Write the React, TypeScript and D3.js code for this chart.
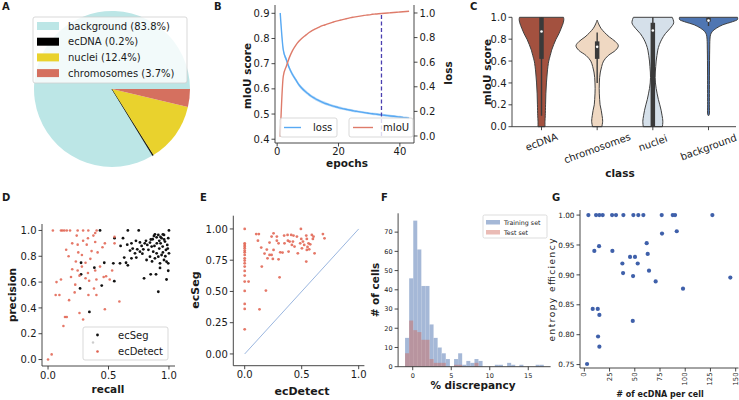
import React from 'react';
import * as d3 from 'd3';

const FONT = "'DejaVu Sans', sans-serif";
const AX = '#333';
const TXT = '#1a1a1a';

// ---------- A: pie
const pieLabels = ['background', 'ecDNA', 'nuclei', 'chromosomes'];
const piePercents = [83.8, 0.2, 12.4, 3.7];
const pieColors = ['#bce6e6', '#000000', '#e9d22d', '#d5705f'];

// ---------- B: training curves
const epochs = [1,2,3,4,5,6,7,8,9,10,11,12,13,14,15,16,17,18,19,20,21,22,23,24,25,26,27,28,29,30,31,32,33,34,35,36,37,38,39,40,41,42,43];
const miou = [0.41,0.65,0.69,0.725,0.752,0.772,0.788,0.8,0.81,0.82,0.828,0.835,0.841,0.847,0.852,0.856,0.86,0.864,0.868,0.871,0.874,0.877,0.88,0.883,0.885,0.887,0.889,0.891,0.893,0.894,0.896,0.897,0.898,0.899,0.9,0.901,0.902,0.903,0.904,0.905,0.906,0.907,0.908];
const loss = [1.0,0.7,0.62,0.55,0.5,0.46,0.42,0.39,0.365,0.345,0.325,0.31,0.295,0.283,0.272,0.262,0.253,0.245,0.238,0.231,0.225,0.219,0.214,0.209,0.204,0.2,0.196,0.192,0.188,0.184,0.181,0.178,0.175,0.172,0.169,0.166,0.163,0.16,0.157,0.154,0.151,0.148,0.145];
const lossSpread = [0.02,0.02,0.018,0.017,0.016,0.015,0.015,0.014,0.014,0.013,0.013,0.013,0.012,0.012,0.012,0.012,0.011,0.011,0.011,0.011,0.011,0.01,0.01,0.01,0.01,0.01,0.01,0.01,0.01,0.01,0.01,0.01,0.01,0.01,0.01,0.01,0.01,0.01,0.01,0.01,0.01,0.01,0.01];
const bestEpoch = 34;

// ---------- C: violins
const violinClasses = ['ecDNA', 'chromosomes', 'nuclei', 'background'];
const violinColors = ['#a3513f', '#efd8c2', '#d5e0ea', '#4f76b2'];
const violinEcDNA = [[0,0.12],[0.05,0.12],[0.1,0.13],[0.2,0.14],[0.3,0.15],[0.4,0.17],[0.5,0.2],[0.6,0.25],[0.65,0.3],[0.7,0.35],[0.75,0.42],[0.8,0.5],[0.85,0.6],[0.9,0.68],[0.95,0.75],[0.98,0.77],[1.0,0.76]];
const violinChrom = [[0,0.16],[0.05,0.19],[0.1,0.17],[0.15,0.14],[0.2,0.1],[0.25,0.085],[0.3,0.075],[0.35,0.07],[0.4,0.075],[0.45,0.085],[0.5,0.11],[0.55,0.155],[0.6,0.22],[0.65,0.38],[0.7,0.64],[0.74,0.73],[0.78,0.62],[0.82,0.42],[0.86,0.26],[0.9,0.13],[0.94,0.05],[0.975,0]];
const violinNuclei = [[0,0.33],[0.05,0.345],[0.1,0.32],[0.15,0.286],[0.2,0.24],[0.25,0.19],[0.3,0.15],[0.35,0.115],[0.4,0.09],[0.45,0.08],[0.5,0.085],[0.55,0.1],[0.6,0.115],[0.65,0.14],[0.7,0.17],[0.75,0.225],[0.8,0.31],[0.85,0.43],[0.9,0.6],[0.95,0.72],[1.0,0.67]];
const violinBackground = [[0.1,0],[0.11,0.025],[0.2,0.03],[0.5,0.033],[0.7,0.04],[0.8,0.05],[0.84,0.07],[0.87,0.13],[0.9,0.27],[0.93,0.48],[0.96,0.83],[0.98,1.0],[1.0,1.0]];
const violinShapes = [violinEcDNA, violinChrom, violinNuclei, violinBackground];
// [whiskerLow, q1, median, q3, whiskerHigh]
const violinStats = [[0.1,0.62,0.87,1.0,1.0],[0.4,0.62,0.73,0.78,0.86],[0,0,0.88,0.95,1.0],[0.92,0.96,0.97,0.995,1.0]];

// ---------- D: precision / recall
const ecSegPR = [[0.43,1.0],[0.66,1.0],[0.75,1.0],[1.0,1.0],[0.55,0.94],[0.62,0.94],[0.655,0.89],[0.69,0.9],[0.727,0.92],[0.76,0.907],[0.774,0.88],[0.788,0.854],[0.81,0.92],[0.821,0.888],[0.843,0.906],[0.857,0.875],[0.865,0.932],[0.876,0.957],[0.884,0.97],[0.898,0.947],[0.912,0.965],[0.92,0.92],[0.931,0.9],[0.939,0.94],[0.948,0.875],[0.959,0.965],[0.967,0.914],[0.975,0.849],[0.986,0.888],[0.994,0.94],[1.0,0.823],[0.87,0.836],[0.898,0.823],[0.912,0.797],[0.939,0.81],[0.959,0.771],[0.98,0.758],[0.994,0.745],[0.926,0.745],[0.884,0.784],[0.843,0.797],[0.815,0.771],[0.76,0.836],[0.738,0.854],[0.719,0.823],[0.678,0.844],[0.69,0.784],[0.645,0.75],[0.273,0.75],[0.273,0.66],[0.265,0.551],[0.342,0.369],[0.383,0.712],[0.444,0.573],[0.465,0.75],[0.54,0.745],[0.548,0.607],[0.595,0.745],[0.63,0.79],[0.66,0.73],[0.6,0.88],[0.7,0.86],[0.794,0.629],[0.849,0.66],[0.893,0.66],[0.98,0.62],[0.912,0.525],[0.994,0.688],[0.926,0.71],[0.95,0.83],[0.97,0.8],[0.9,0.9],[0.92,0.86],[0.85,0.93],[0.96,0.93],[0.88,0.88],[0.8,0.9],[0.78,0.82],[0.83,0.85],[0.95,0.97],[0.99,0.86],[0.73,0.79],[0.86,0.76],[0.93,0.95]];
const ecDetectPR = [[0.04,1.0],[0.107,1.0],[0.12,1.0],[0.135,1.0],[0.155,1.0],[0.182,1.0],[0.245,1.0],[0.29,1.0],[0.333,1.0],[0.402,1.0],[0.237,0.96],[0.375,0.96],[0.39,0.98],[0.33,0.94],[0.55,0.95],[0.55,0.9],[0.47,0.9],[0.245,0.89],[0.32,0.89],[0.39,0.91],[0.29,0.92],[0.41,0.83],[0.36,0.84],[0.28,0.81],[0.17,0.8],[0.23,0.76],[0.31,0.75],[0.245,0.69],[0.26,0.65],[0.33,0.67],[0.39,0.69],[0.46,0.64],[0.48,0.645],[0.53,0.69],[0.51,0.62],[0.31,0.63],[0.19,0.64],[0.107,0.62],[0.07,0.6],[0.225,0.58],[0.34,0.61],[0.4,0.62],[0.063,0.5],[0.094,0.5],[0.174,0.46],[0.334,0.5],[0.4,0.5],[0.59,0.45],[0.47,0.39],[0.14,0.33],[0.155,0.33],[0.26,0.36],[0.29,0.31],[0.127,0.26],[0.03,0.04],[0.0,0.0],[0.2,0.9],[0.15,0.85],[0.25,0.83],[0.28,0.72],[0.35,0.78],[0.43,0.72],[0.45,0.87],[0.2,0.7],[0.38,0.55],[0.22,0.52]];

// ---------- E: ecSeg vs ecDetect
const segVsDetect = [[0,1.0],[0,0.885],[0,0.872],[0,0.859],[0,0.845],[0,0.827],[0,0.813],[0,0.792],[0,0.765],[0,0.747],[0,0.725],[0,0.699],[0,0.664],[0,0.627],[0,0.579],[0,0.504],[0,0.4],[0,0.36],[0,0.197],[0.034,0.579],[0.101,0.959],[0.124,0.959],[0.116,0.906],[0.145,0.851],[0.15,0.699],[0.13,0.357],[0.186,0.507],[0.174,0.803],[0.194,0.835],[0.2,0.765],[0.218,0.792],[0.218,0.891],[0.236,0.792],[0.236,0.939],[0.253,0.965],[0.247,0.76],[0.253,0.832],[0.282,0.939],[0.282,0.906],[0.297,0.885],[0.297,0.757],[0.306,0.613],[0.312,0.813],[0.332,0.811],[0.346,0.947],[0.349,0.885],[0.376,0.952],[0.379,0.906],[0.394,0.899],[0.408,0.952],[0.414,0.872],[0.423,0.899],[0.428,0.947],[0.437,0.859],[0.458,0.939],[0.466,0.805],[0.487,0.885],[0.493,1.0],[0.496,0.92],[0.502,0.845],[0.511,0.899],[0.522,0.872],[0.54,0.947],[0.54,0.739],[0.545,0.92],[0.545,0.832],[0.551,0.856],[0.56,0.885],[0.566,0.837],[0.575,0.877],[0.589,0.952],[0.598,0.92],[0.604,0.939],[0.613,0.805],[0.686,0.959],[0.7,0.925],[0.385,0.819]];

// ---------- F: histogram
const histStart = -1.0;
const histBinWidth = 0.53;
const trainCounts = [15,46,76,61,42,42,22,15,10,7,4,0,4,7,1,3,2,4,3,0,0,0,1,1,0,2,1,0,1,0,0,0,1,1];
const testCounts = [7,24,19,18,14,14,4,2,2,2,0,0,1,1,0,0,0,2,0,0,0,0,0,0,0,0,0,0,0,0,0,0,0,0];

// ---------- G: entropy efficiency
const ecdnaCount = [4,11.6,14.9,18.2,27.5,31.4,38.7,48.6,53.5,58.5,76.7,87.6,89.9,126.9,9.9,14.6,27.8,77,91.6,61.8,62.8,45.3,50.2,37.7,52.9,64.1,38.4,48.3,70.7,144.7,97.8,8.3,13.3,14.9,48,13.6,14.9,2.7];
const entropyEff = [1,1,1,1,1,1,1,1,1,1,1,1,1,1,0.94,0.948,0.94,0.969,0.973,0.953,0.935,0.93,0.93,0.919,0.919,0.907,0.903,0.898,0.889,0.8955,0.877,0.843,0.843,0.833,0.823,0.797,0.78,0.751];

// ---------- helpers
type Sc = (v: number) => number;

function LeftAxis({ scale, x, y0, y1, ticks, fmt, fs = 10 }: { scale: Sc; x: number; y0: number; y1: number; ticks: number[]; fmt: (v: number) => string; fs?: number }) {
  return (
    <g>
      <line x1={x} x2={x} y1={y0} y2={y1} stroke={AX} strokeWidth={0.9} />
      {ticks.map((t) => (
        <g key={t}>
          <line x1={x - 3.5} x2={x} y1={scale(t)} y2={scale(t)} stroke={AX} strokeWidth={0.9} />
          <text x={x - 5.5} y={scale(t)} dy="0.36em" textAnchor="end" fontSize={fs} fill={TXT}>{fmt(t)}</text>
        </g>
      ))}
    </g>
  );
}

function RightAxis({ scale, x, y0, y1, ticks, fmt, fs = 10 }: { scale: Sc; x: number; y0: number; y1: number; ticks: number[]; fmt: (v: number) => string; fs?: number }) {
  return (
    <g>
      <line x1={x} x2={x} y1={y0} y2={y1} stroke={AX} strokeWidth={0.9} />
      {ticks.map((t) => (
        <g key={t}>
          <line x1={x} x2={x + 3.5} y1={scale(t)} y2={scale(t)} stroke={AX} strokeWidth={0.9} />
          <text x={x + 5.5} y={scale(t)} dy="0.36em" textAnchor="start" fontSize={fs} fill={TXT}>{fmt(t)}</text>
        </g>
      ))}
    </g>
  );
}

function BottomAxis({ scale, y, x0, x1, ticks, fmt, fs = 10, off = 12 }: { scale: Sc; y: number; x0: number; x1: number; ticks: number[]; fmt: (v: number) => string; fs?: number; off?: number }) {
  return (
    <g>
      <line x1={x0} x2={x1} y1={y} y2={y} stroke={AX} strokeWidth={0.9} />
      {ticks.map((t) => (
        <g key={t}>
          <line x1={scale(t)} x2={scale(t)} y1={y} y2={y + 3.5} stroke={AX} strokeWidth={0.9} />
          <text x={scale(t)} y={y + off} textAnchor="middle" fontSize={fs} fill={TXT}>{fmt(t)}</text>
        </g>
      ))}
    </g>
  );
}

function VLabel({ x, y, text, fs = 10.5, bold = true, len }: { x: number; y: number; text: string; fs?: number; bold?: boolean; len?: number }) {
  return (
    <text transform={`translate(${x},${y}) rotate(-90)`} textAnchor="middle" dominantBaseline="central" fontSize={fs} fontWeight={bold ? 'bold' : 'normal'} fill={TXT} textLength={len} lengthAdjust={len ? 'spacing' : undefined}>{text}</text>
  );
}

function HLabel({ x, y, text, fs = 10.5 }: { x: number; y: number; text: string; fs?: number }) {
  return <text x={x} y={y} textAnchor="middle" dominantBaseline="central" fontSize={fs} fontWeight="bold" fill={TXT}>{text}</text>;
}

function Letter({ x, y, t }: { x: number; y: number; t: string }) {
  return <text x={x} y={y} fontSize={10} fontWeight="bold" fill={TXT}>{t}</text>;
}

const f1 = (v: number) => v.toFixed(1);
const f2 = (v: number) => v.toFixed(2);
const f0 = (v: number) => String(v);

// ---------- panels
function PanelA() {
  const cx = 112, cy = 89, r = 78;
  const pie = d3.pie<number>().sort(null).startAngle(Math.PI / 2).endAngle(Math.PI / 2 - 2 * Math.PI);
  const arcs = pie(piePercents);
  const arc = d3.arc<d3.PieArcDatum<number>>().innerRadius(0).outerRadius(r);
  return (
    <g>
      <Letter x={2} y={10} t="A" />
      <g transform={`translate(${cx},${cy})`}>
        {arcs.map((a, i) => (
          <path key={i} d={arc(a) || ''} fill={pieColors[i]} stroke={i === 1 ? '#000' : 'none'} strokeWidth={0.6} />
        ))}
      </g>
      <rect x={33} y={17} width={154} height={66} rx={2} fill="#fff" fillOpacity={0.8} stroke="#cfcfcf" strokeWidth={0.8} />
      {pieLabels.map((l, i) => (
        <g key={l}>
          <rect x={37} y={22 + i * 15.7} width={22} height={8} fill={pieColors[i]} />
          <text x={68} y={26 + i * 15.7} dy="0.36em" fontSize={10} fill={TXT}>{`${l} (${piePercents[i]}%)`}</text>
        </g>
      ))}
    </g>
  );
}

function PanelB() {
  const x = d3.scaleLinear().domain([-0.7, 44.6]).range([275, 414]);
  const yL = d3.scaleLinear().domain([0.385, 0.933]).range([143, 5]);
  const yR = d3.scaleLinear().domain([-0.057, 1.065]).range([143, 5]);
  const band = d3.area<number>().x((_, i) => x(epochs[i])).y0((d, i) => yR(d - lossSpread[i])).y1((d, i) => yR(d + lossSpread[i])).curve(d3.curveMonotoneX);
  const lossLine = d3.line<number>().x((_, i) => x(epochs[i])).y((d) => yR(d)).curve(d3.curveMonotoneX);
  const miouLine = d3.line<number>().x((_, i) => x(epochs[i])).y((d) => yL(d)).curve(d3.curveMonotoneX);
  return (
    <g>
      <Letter x={214} y={10} t="B" />
      <path d={band(loss) || ''} fill="#9fcdf5" fillOpacity={0.7} />
      <path d={lossLine(loss) || ''} fill="none" stroke="#58a9f3" strokeWidth={1.4} />
      <path d={miouLine(miou) || ''} fill="none" stroke="#de7b6a" strokeWidth={1.4} />
      <line x1={x(bestEpoch)} x2={x(bestEpoch)} y1={yR(0)} y2={yR(1)} stroke="#4a3fb0" strokeWidth={1.3} strokeDasharray="4 2.5" />
      <LeftAxis scale={yL} x={275} y0={143} y1={5} ticks={[0.4, 0.5, 0.6, 0.7, 0.8, 0.9]} fmt={f1} />
      <RightAxis scale={yR} x={414} y0={143} y1={5} ticks={[0, 0.2, 0.4, 0.6, 0.8, 1.0]} fmt={f1} />
      <BottomAxis scale={x} y={143} x0={275} x1={414} ticks={[0, 20, 40]} fmt={f0} off={12} />
      <VLabel x={247} y={76} text="mIoU score" />
      <VLabel x={448} y={73} text="loss" />
      <HLabel x={347} y={163} text="epochs" />
      <rect x={280} y={118} width={57} height={19} rx={2} fill="#fff" fillOpacity={0.8} stroke="#cfcfcf" strokeWidth={0.8} />
      <line x1={284} x2={301} y1={127.5} y2={127.5} stroke="#58a9f3" strokeWidth={1.4} />
      <text x={313} y={127.5} dy="0.36em" fontSize={10} fill={TXT}>loss</text>
      <rect x={349} y={118} width={64} height={19} rx={2} fill="#fff" fillOpacity={0.8} stroke="#cfcfcf" strokeWidth={0.8} />
      <line x1={353} x2={373} y1={127.5} y2={127.5} stroke="#de7b6a" strokeWidth={1.4} />
      <text x={383} y={127.5} dy="0.36em" fontSize={10} fill={TXT}>mIoU</text>
    </g>
  );
}

function PanelC() {
  const x = d3.scalePoint<string>().domain(violinClasses).range([541.5, 708.5]);
  const y = d3.scaleLinear().domain([0, 1]).range([126.7, 17.3]);
  const wS = d3.scaleLinear().domain([0, 1]).range([0, 29]);
  return (
    <g>
      <Letter x={470} y={10} t="C" />
      {violinClasses.map((c, i) => {
        const cx = x(c) as number;
        const area = d3.area<number[]>().y((d) => y(d[0])).x0((d) => cx - wS(d[1])).x1((d) => cx + wS(d[1])).curve(d3.curveCatmullRom);
        const [wl, q1, med, q3, wh] = violinStats[i];
        return (
          <g key={c}>
            <path d={area(violinShapes[i]) || ''} fill={violinColors[i]} stroke="#404040" strokeWidth={1} />
            <line x1={cx} x2={cx} y1={y(wl)} y2={y(wh)} stroke="#3a3a3a" strokeWidth={1.4} />
            <line x1={cx} x2={cx} y1={y(q1)} y2={y(q3)} stroke="#3a3a3a" strokeWidth={4.5} />
            <circle cx={cx} cy={y(med)} r={1.3} fill="#fff" />
          </g>
        );
      })}
      <LeftAxis scale={y} x={512} y0={126.7} y1={17.3} ticks={[0, 0.2, 0.4, 0.6, 0.8, 1.0]} fmt={f1} />
      <line x1={512} x2={736} y1={126.7} y2={126.7} stroke={AX} strokeWidth={0.9} />
      {violinClasses.map((c) => {
        const cx = x(c) as number;
        const w = c.length * 6.1;
        const h = w * Math.sin(Math.PI / 9) + 10 * Math.cos(Math.PI / 9);
        return (
          <g key={c}>
            <line x1={cx} x2={cx} y1={126.7} y2={130.2} stroke={AX} strokeWidth={0.9} />
            <text transform={`translate(${cx},${132 + h / 2}) rotate(-20)`} textAnchor="middle" dominantBaseline="central" fontSize={10} fill={TXT}>{c}</text>
          </g>
        );
      })}
      <VLabel x={487} y={72} text="mIoU score" />
      <HLabel x={620} y={173} text="class" />
    </g>
  );
}

function PanelD() {
  const x = d3.scaleLinear().domain([-0.05, 1.05]).range([42, 175]);
  const y = d3.scaleLinear().domain([-0.05, 1.05]).range([366, 224]);
  return (
    <g>
      <Letter x={2} y={201} t="D" />
      {ecSegPR.map((d, i) => <circle key={'s' + i} cx={x(d[0])} cy={y(d[1])} r={1.4} fill="#111" />)}
      {ecDetectPR.map((d, i) => <circle key={'d' + i} cx={x(d[0])} cy={y(d[1])} r={1.3} fill="#e0604e" fillOpacity={0.85} />)}
      <LeftAxis scale={y} x={42} y0={366} y1={224} ticks={[0, 0.2, 0.4, 0.6, 0.8, 1.0]} fmt={f1} />
      <BottomAxis scale={x} y={366} x0={42} x1={175} ticks={[0, 0.5, 1.0]} fmt={f1} off={12.5} />
      <VLabel x={12} y={295} text="precision" />
      <HLabel x={108} y={389} text="recall" />
      <rect x={83} y={327} width={85} height={33} rx={2} fill="#fff" fillOpacity={0.8} stroke="#cfcfcf" strokeWidth={0.8} />
      <circle cx={97.5} cy={335} r={1.4} fill="#111" />
      <circle cx={93} cy={342.5} r={1.2} fill="#999" fillOpacity={0.5} />
      <text x={118} y={335} dy="0.36em" fontSize={10} fill={TXT}>ecSeg</text>
      <circle cx={97.5} cy={351.5} r={1.3} fill="#e0604e" />
      <text x={118} y={351} dy="0.36em" fontSize={10} fill={TXT}>ecDetect</text>
    </g>
  );
}

function PanelE() {
  const x = d3.scaleLinear().domain([-0.1, 1.05]).range([233.3, 364.4]);
  const y = d3.scaleLinear().domain([-0.094, 1.106]).range([365.7, 215.7]);
  return (
    <g>
      <Letter x={200} y={201} t="E" />
      <line x1={x(0)} y1={y(0)} x2={x(1)} y2={y(1)} stroke="#8eaedb" strokeWidth={0.9} />
      {segVsDetect.map((d, i) => <circle key={i} cx={x(d[0])} cy={y(d[1])} r={1.4} fill="#e0604e" fillOpacity={0.85} />)}
      <LeftAxis scale={y} x={233.3} y0={365.7} y1={215.7} ticks={[0, 0.25, 0.5, 0.75, 1.0]} fmt={f2} />
      <BottomAxis scale={x} y={365.7} x0={233.3} x1={364.4} ticks={[0, 0.5, 1.0]} fmt={f1} off={12.5} />
      <VLabel x={195} y={290} text="ecSeg" fs={11} />
      <HLabel x={302} y={391} text="ecDetect" fs={11} />
    </g>
  );
}

function PanelF() {
  const x = d3.scaleLinear().domain([-1.9, 17.9]).range([398.1, 550.6]);
  const y = d3.scaleLinear().domain([0, 79.8]).range([366.7, 213.3]);
  return (
    <g>
      <Letter x={381} y={201} t="F" />
      {trainCounts.map((c, i) => c > 0 && (
        <rect key={'t' + i} x={x(histStart + i * histBinWidth)} width={x(histStart + (i + 1) * histBinWidth) - x(histStart + i * histBinWidth)} y={y(c)} height={y(0) - y(c)} fill="#4c72b0" fillOpacity={0.5} stroke="#fff" strokeOpacity={0.3} strokeWidth={0.3} />
      ))}
      {testCounts.map((c, i) => c > 0 && (
        <rect key={'s' + i} x={x(histStart + i * histBinWidth)} width={x(histStart + (i + 1) * histBinWidth) - x(histStart + i * histBinWidth)} y={y(c)} height={y(0) - y(c)} fill="#d0685a" fillOpacity={0.45} />
      ))}
      <LeftAxis scale={y} x={398.1} y0={366.7} y1={213.3} ticks={[0, 10, 20, 30, 40, 50, 60, 70]} fmt={f0} fs={6.5} />
      <BottomAxis scale={x} y={366.7} x0={398.1} x1={550.6} ticks={[0, 5, 10, 15]} fmt={f0} fs={6.5} off={11.5} />
      <VLabel x={375} y={290} text="# of cells" />
      <HLabel x={473} y={385} text="% discrepancy" />
      <rect x={483} y={215} width={64} height={23} rx={1.5} fill="#fff" fillOpacity={0.8} stroke="#cfcfcf" strokeWidth={0.7} />
      <rect x={486} y={220} width={14} height={4.5} fill="#4c72b0" fillOpacity={0.5} />
      <text x={504} y={222.3} dy="0.36em" fontSize={6.3} fill={TXT}>Training set</text>
      <rect x={486} y={230} width={14} height={4.5} fill="#d0685a" fillOpacity={0.45} />
      <text x={504} y={232.3} dy="0.36em" fontSize={6.3} fill={TXT}>Test set</text>
    </g>
  );
}

function PanelG() {
  const x = d3.scaleLinear().domain([-4.3, 152.8]).range([580, 738.5]);
  const y = d3.scaleLinear().domain([0.7443, 1.0085]).range([368, 210]);
  const xt = [0, 25, 50, 75, 100, 125, 150];
  return (
    <g>
      <Letter x={552} y={201} t="G" />
      {ecdnaCount.map((v, i) => <circle key={i} cx={x(v)} cy={y(entropyEff[i])} r={2.1} fill="#3f60aa" />)}
      <LeftAxis scale={y} x={580} y0={368} y1={210} ticks={[0.75, 0.8, 0.85, 0.9, 0.95, 1.0]} fmt={f2} fs={7.3} />
      <line x1={580} x2={738.5} y1={368} y2={368} stroke={AX} strokeWidth={0.9} />
      {xt.map((t) => (
        <g key={t}>
          <line x1={x(t)} x2={x(t)} y1={368} y2={371.5} stroke={AX} strokeWidth={0.9} />
          <text transform={`translate(${x(t)},${372.5}) rotate(-90)`} textAnchor="end" dominantBaseline="central" fontSize={6.8} fill={TXT}>{t}</text>
        </g>
      ))}
      <VLabel x={552} y={290} text="entropy efficiency" fs={9} bold={false} len={103} />
      <HLabel x={660} y={394} text="# of ecDNA per cell" fs={8} />
    </g>
  );
}

export default function App() {
  return (
    <svg width={739} height={400} viewBox="0 0 739 400" style={{ position: 'absolute', left: 0, top: 0, background: '#fff' }} fontFamily={FONT}>
      <rect width={739} height={400} fill="#fff" />
      <PanelA />
      <PanelB />
      <PanelC />
      <PanelD />
      <PanelE />
      <PanelF />
      <PanelG />
    </svg>
  );
}
